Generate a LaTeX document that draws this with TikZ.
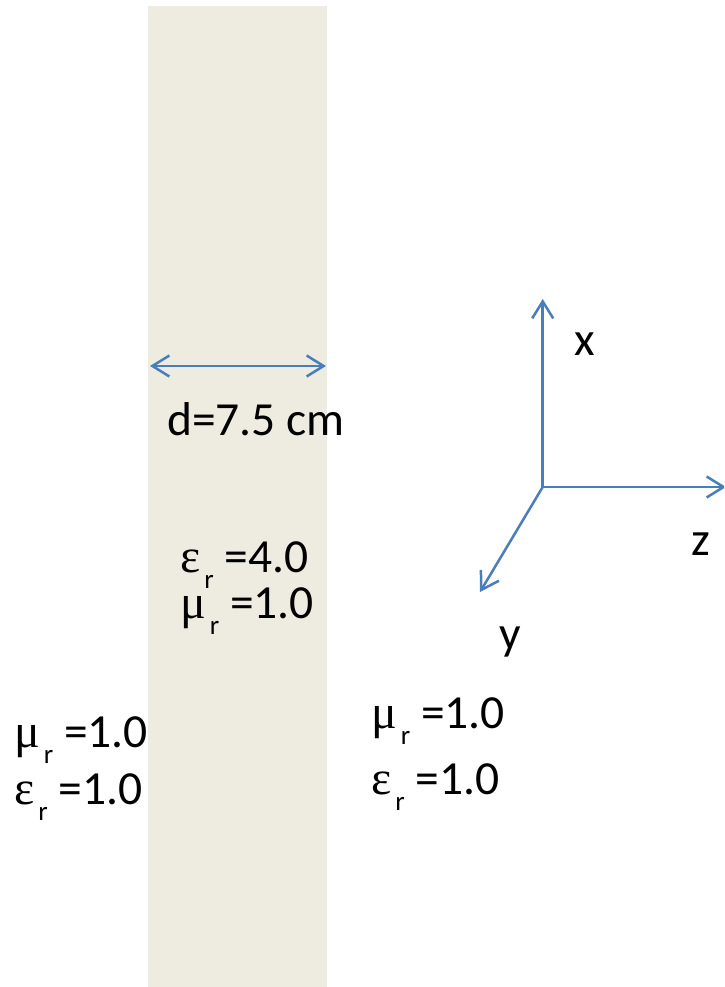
\documentclass[tikz,border=0pt]{standalone}
\usepackage{fontspec}
\setmainfont{Carlito}
\newfontfamily\grk{Liberation Serif}
\usetikzlibrary{arrows.meta}
\definecolor{slab}{HTML}{EEECE1}
\definecolor{axblue}{HTML}{4A7EBB}
\newcommand{\subr}{\hspace{4pt}\raisebox{-16pt}{\fontsize{27}{27}\selectfont r}}
\newcommand{\gmu}{{\grk\fontsize{48}{50}\selectfont μ}}
\newcommand{\geps}{{\grk\fontsize{48}{50}\selectfont ε}}
\tikzset{
  lbl/.style={anchor=base west, inner sep=0pt, font=\fontsize{47.5}{52}\selectfont},
  axarrow/.style={draw=axblue, line width=2.5pt, -{Straight Barb[length=17pt,width=21pt,line width=2.5pt]}},
  dimarrow/.style={draw=axblue, line width=2.5pt, {Straight Barb[length=17pt,width=21pt,line width=2.5pt]}-{Straight Barb[length=17pt,width=21pt,line width=2.5pt]}}
}
\begin{document}
\begin{tikzpicture}[x=1pt,y=-1pt]
\useasboundingbox (0,0) rectangle (724,987);
\clip (0,0) rectangle (724,987);
\fill[slab] (148,6) rectangle (327,987);
% dimension arrow
\coordinate (dL) at (150,366);
\coordinate (dR) at (326,366);
\draw[dimarrow] (dL) -- (dR);
\node[lbl] (dtxt) at (167,435) {d=7.5 cm};
\node[lbl] (epsin) at (180,572) {\geps\subr{} =4.0};
\node[lbl] (muin) at (180,618) {\gmu\subr{} =1.0};
\node[lbl] (muleft) at (14,747) {\gmu\subr{} =1.0};
\node[lbl] (epsleft) at (14,804) {\geps\subr{} =1.0};
\node[lbl] (muright) at (371,728) {\gmu\subr{} =1.0};
\node[lbl] (epsright) at (371,794) {\geps\subr{} =1.0};
% axes
\coordinate (O) at (542.7,487);
\coordinate (X) at (542.7,299);
\coordinate (Z) at (726,487);
\coordinate (Y) at (480,592);
\draw[axarrow] (O) -- (X);
\draw[axarrow] (O) -- (Z);
\draw[axarrow] (O) -- (Y);
\node[lbl] (xl) at (574,355) {x};
\node[lbl] (zl) at (691,555) {z};
\node[lbl] (yl) at (499,649) {y};
\end{tikzpicture}
\end{document}
